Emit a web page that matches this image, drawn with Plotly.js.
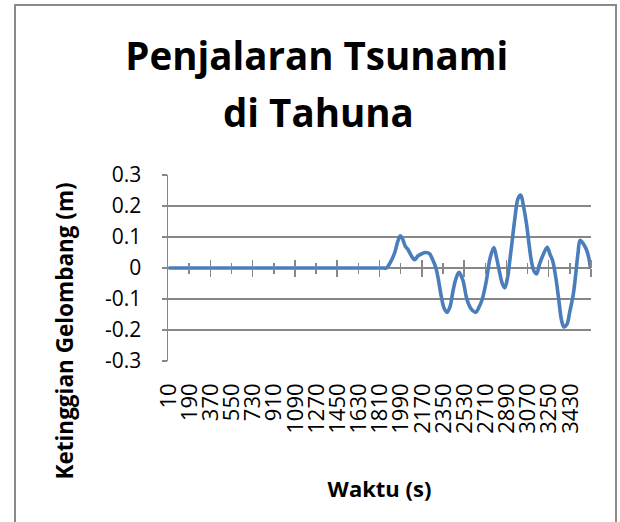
<!DOCTYPE html>
<html>
<head>
<meta charset="utf-8">
<script src="https://cdn.plot.ly/plotly-3.0.1.min.js"></script>
<style>
  html, body { margin: 0; padding: 0; background: #fff; }
  #wrap { position: relative; width: 620px; height: 522px; overflow: hidden; }
  #frame { position: absolute; left: 14px; top: 4px; width: 603px; height: 540px;
           border: 2px solid #8a8a8a; box-sizing: border-box; pointer-events: none; }
  #chart { position: absolute; left: 0; top: 0; width: 620px; height: 522px; }
</style>
</head>
<body>
<div id="wrap">
  <div id="chart"></div>
  <div id="frame"></div>
</div>
<script>
// Time (s) and wave height (m)
const waktu = [10, 1840, 1865, 1900, 1935, 1960, 1982, 2000, 2025, 2047, 2075, 2104, 2130, 2165, 2200, 2230,
  2260, 2285, 2305, 2330, 2355, 2380, 2405, 2430, 2455, 2482, 2515, 2545, 2575, 2600, 2624, 2650,
  2680, 2715, 2745, 2778, 2800, 2825, 2850, 2871, 2895, 2914, 2935, 2957, 2985, 3008, 3030, 3056,
  3080, 3099, 3120, 3142, 3165, 3195, 3232, 3255, 3278, 3305, 3330, 3355, 3375, 3400, 3425, 3455,
  3475, 3495, 3512, 3540, 3563, 3585, 3600];
const tinggi = [0, 0, 0, 0.02, 0.05, 0.085, 0.104, 0.095, 0.07, 0.06, 0.04, 0.027, 0.038, 0.046, 0.05, 0.046,
  0.025, 0.0, -0.035, -0.09, -0.13, -0.143, -0.125, -0.075, -0.035, -0.014, -0.04, -0.095, -0.126, -0.138, -0.143, -0.128,
  -0.1, -0.04, 0.03, 0.066, 0.035, -0.01, -0.05, -0.064, -0.03, 0.024, 0.09, 0.16, 0.225, 0.235, 0.2, 0.143,
  0.07, 0.02, -0.01, -0.019, 0.01, 0.04, 0.067, 0.045, 0.024, -0.03, -0.1, -0.17, -0.19, -0.182, -0.14, -0.083,
  -0.02, 0.05, 0.089, 0.078, 0.062, 0.035, 0.0];

// Category tick labels of the horizontal axis
const tickLabels = ["10", "190", "370", "550", "730", "910", "1090", "1270", "1450", "1630",
  "1810", "1990", "2170", "2350", "2530", "2710", "2890", "3070", "3250", "3430"];
// Value axis tick labels
const yTickVals = [-0.3, -0.2, -0.1, 0, 0.1, 0.2, 0.3];
const yTickText = ["-0.3", "-0.2", "-0.1", "0", "0.1", "0.2", "0.3"];

const labelVals = tickLabels.map(Number);
// tick marks sit on the category boundaries, half a step (5 s) before each label
const boundaries = labelVals.map(v => v - 5).concat([labelVals[labelVals.length - 1] + 175]);
const majorTicks = boundaries.filter((v, i) => i % 2 === 0 && i > 0);
const minorTicks = boundaries.filter((v, i) => i % 2 === 1);
const xRange = [5, 3605];

const grey = '#878787';
const fontFam = '"Open Sans", "Noto Sans", sans-serif';

const main = {
  x: waktu, y: tinggi, type: 'scatter', mode: 'lines',
  line: { color: '#4A7EBB', width: 3.6, shape: 'spline', smoothing: 1 },
  hoverinfo: 'x+y', showlegend: false, xaxis: 'x', yaxis: 'y'
};
const ghost2 = { x: waktu, y: tinggi, type: 'scatter', mode: 'lines', opacity: 0,
  line: { width: 0 }, hoverinfo: 'skip', showlegend: false, xaxis: 'x2', yaxis: 'y' };
const ghost3 = { x: waktu, y: tinggi, type: 'scatter', mode: 'lines', opacity: 0,
  line: { width: 0 }, hoverinfo: 'skip', showlegend: false, xaxis: 'x3', yaxis: 'y' };

const crossAxis = (side) => ({
  overlaying: 'x', anchor: 'free', position: 0.5, side: side,
  range: xRange, showgrid: false, zeroline: false, showline: false,
  showticklabels: false, tickmode: 'array', tickvals: majorTicks,
  ticks: 'outside', ticklen: 8, tickwidth: 1.5, tickcolor: grey,
  minor: { tickmode: 'array', tickvals: minorTicks, ticks: 'outside', ticklen: 5, tickwidth: 1.5, tickcolor: grey, showgrid: false }
});

const layout = {
  width: 620, height: 522,
  margin: { l: 168, r: 29, t: 175, b: 161 },
  paper_bgcolor: 'rgba(0,0,0,0)', plot_bgcolor: 'rgba(0,0,0,0)',
  font: { family: fontFam, color: '#000' },
  title: {
    text: 'Penjalaran Tsunami',
    font: { family: fontFam, size: 38.5, color: '#000', weight: 'bold' },
    x: 0.511, xref: 'container', xanchor: 'center',
    y: 1 - 57 / 522, yref: 'container', yanchor: 'middle'
  },
  xaxis: {
    range: xRange, type: 'linear', tickmode: 'array', tickvals: labelVals, ticktext: tickLabels,
    tickangle: -90, ticks: '', showgrid: false, zeroline: false, showline: false,
    tickfont: { family: fontFam, size: 22, color: '#000' }, ticklabelstandoff: 17,
    title: { text: 'Waktu (s)', font: { family: fontFam, size: 22, color: '#000', weight: 'bold' }, standoff: 48 }
  },
  xaxis2: crossAxis('bottom'),
  xaxis3: crossAxis('top'),
  yaxis: {
    range: [-0.3, 0.3], tickmode: 'array', tickvals: yTickVals, ticktext: yTickText,
    showgrid: true, gridcolor: grey, gridwidth: 1.2, zeroline: false,
    showline: true, linecolor: grey, linewidth: 1.5,
    ticks: 'outside', ticklen: 5, tickcolor: grey, tickwidth: 1.2,
    tickfont: { family: fontFam, size: 21, color: '#000' }, ticklabelstandoff: 16
  },
  annotations: [
    { text: 'di Tahuna', xref: 'paper', yref: 'paper', x: (318 - 168) / 423, y: 1 + (175 - 112) / 186,
      xanchor: 'center', yanchor: 'middle', showarrow: false,
      font: { family: fontFam, size: 38.5, color: '#000', weight: 'bold' } },
    { text: 'Ketinggian Gelombang (m)', xref: 'paper', yref: 'paper', x: (64 - 168) / 423, y: (361 - 331.5) / 186,
      xanchor: 'center', yanchor: 'middle', textangle: -90, showarrow: false,
      font: { family: fontFam, size: 22.5, color: '#000', weight: 'bold' } }
  ]
};

Plotly.newPlot('chart', [main, ghost2, ghost3], layout, { displayModeBar: false, staticPlot: true });
</script>
</body>
</html>
